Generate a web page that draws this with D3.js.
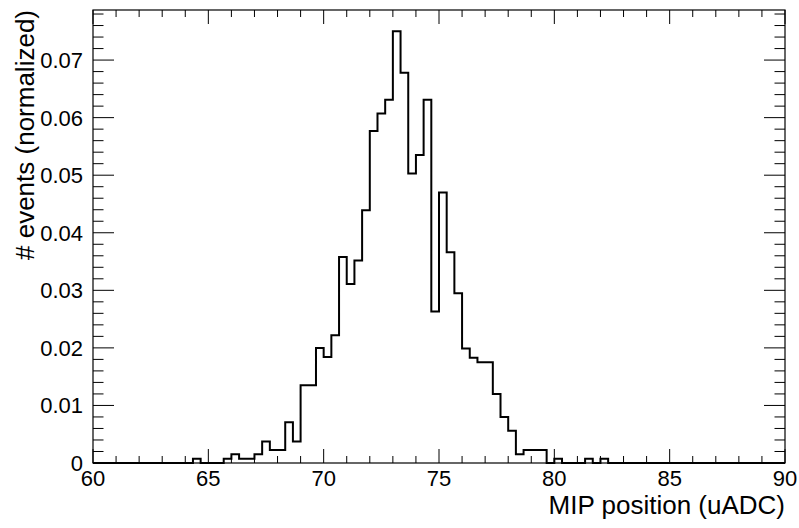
<!DOCTYPE html>
<html>
<head>
<meta charset="utf-8">
<script src="https://cdn.jsdelivr.net/npm/d3@7"></script>
<style>
  html, body { margin: 0; padding: 0; background: #fff; }
  svg { display: block; }
  text { font-family: "Liberation Sans", Arial, Helvetica, sans-serif; fill: #000; }
</style>
</head>
<body>
<svg id="chart" width="799" height="528"></svg>
<script>
// ---- data ----
const binStart = 60;
const binWidth = 1 / 3;
const binValues = [
  0, 0, 0, 0, 0, 0, 0, 0, 0, 0,
  0, 0, 0, 0.00075, 0, 0, 0, 0.00075, 0.0015, 0.00075,
  0.00075, 0.0015, 0.00375, 0.00225, 0.00225, 0.0071, 0.00375, 0.0135, 0.0135, 0.0200,
  0.0184, 0.0222, 0.0358, 0.0311, 0.0352, 0.0439, 0.0577, 0.0607, 0.0631, 0.0750,
  0.0678, 0.0503, 0.0535, 0.0631, 0.0263, 0.0470, 0.0366, 0.0295, 0.0199, 0.0183,
  0.0175, 0.0175, 0.0120, 0.0080, 0.0056, 0.0015, 0.00225, 0.00225, 0.00225, 0,
  0.00075, 0, 0, 0, 0.00075, 0, 0.00075, 0, 0, 0,
  0, 0, 0, 0, 0, 0, 0, 0, 0, 0,
  0, 0, 0, 0, 0, 0, 0, 0, 0, 0
];
const xMajorTicks = [60, 65, 70, 75, 80, 85, 90];
const xTickLabels = ["60", "65", "70", "75", "80", "85", "90"];
const xMinorTicks = d3.range(61, 90, 1).filter(v => v % 5 !== 0);
const yMajorTicks = [0, 0.01, 0.02, 0.03, 0.04, 0.05, 0.06, 0.07];
const yTickLabels = ["0", "0.01", "0.02", "0.03", "0.04", "0.05", "0.06", "0.07"];
const yMinorTicks = d3.range(1, 40).map(k => k * 0.002).filter(v => Math.abs(v * 100 - Math.round(v * 100)) > 1e-6 && v < 0.0787);
const xTitle = "MIP position (uADC)";
const yTitle = "# events (normalized)";
const xDomain = [60, 90];
const yDomain = [0, 0.0787];

// ---- layout ----
const L = 93, R = 785, T = 10, B = 463;
const svg = d3.select("#chart");
const x = d3.scaleLinear().domain(xDomain).range([L, R]);
const y = d3.scaleLinear().domain(yDomain).range([B, T]);

const labelSize = 22, titleSize = 26;
const xMajLen = 14, xMinLen = 7, yMajLen = 21, yMinLen = 10.5;

// histogram step path
const pts = [];
binValues.forEach((v, i) => {
  const lo = binStart + i * binWidth, hi = binStart + (i + 1) * binWidth;
  pts.push([lo, v], [hi, v]);
});
const line = d3.line().x(d => x(d[0])).y(d => y(d[1]));

// frame
svg.append("rect").attr("x", L).attr("y", T).attr("width", R - L).attr("height", B - T)
  .attr("fill", "none").attr("stroke", "#000").attr("stroke-width", 1.2);

// ticks
const tickG = svg.append("g").attr("stroke", "#000").attr("stroke-width", 1);
xMajorTicks.forEach(v => {
  tickG.append("line").attr("x1", x(v)).attr("x2", x(v)).attr("y1", B).attr("y2", B - xMajLen);
  tickG.append("line").attr("x1", x(v)).attr("x2", x(v)).attr("y1", T).attr("y2", T + xMajLen);
});
xMinorTicks.forEach(v => {
  tickG.append("line").attr("x1", x(v)).attr("x2", x(v)).attr("y1", B).attr("y2", B - xMinLen);
  tickG.append("line").attr("x1", x(v)).attr("x2", x(v)).attr("y1", T).attr("y2", T + xMinLen);
});
yMajorTicks.forEach(v => {
  tickG.append("line").attr("y1", y(v)).attr("y2", y(v)).attr("x1", L).attr("x2", L + yMajLen);
  tickG.append("line").attr("y1", y(v)).attr("y2", y(v)).attr("x1", R).attr("x2", R - yMajLen);
});
yMinorTicks.forEach(v => {
  tickG.append("line").attr("y1", y(v)).attr("y2", y(v)).attr("x1", L).attr("x2", L + yMinLen);
  tickG.append("line").attr("y1", y(v)).attr("y2", y(v)).attr("x1", R).attr("x2", R - yMinLen);
});

// histogram
svg.append("path").attr("d", line(pts)).attr("fill", "none")
  .attr("stroke", "#000").attr("stroke-width", 2).attr("stroke-linejoin", "miter");

// tick labels
xMajorTicks.forEach((v, i) => {
  svg.append("text").attr("x", x(v)).attr("y", B + 23).attr("text-anchor", "middle")
    .attr("font-size", labelSize).text(xTickLabels[i]);
});
yMajorTicks.forEach((v, i) => {
  svg.append("text").attr("x", L - 10).attr("y", y(v) + 8).attr("text-anchor", "end")
    .attr("font-size", labelSize).text(yTickLabels[i]);
});

// titles
svg.append("text").attr("x", R).attr("y", 514).attr("text-anchor", "end")
  .attr("font-size", titleSize).text(xTitle);
svg.append("text").attr("transform", `translate(34,${T}) rotate(-90)`).attr("text-anchor", "end")
  .attr("font-size", titleSize).text(yTitle);
</script>
</body>
</html>
